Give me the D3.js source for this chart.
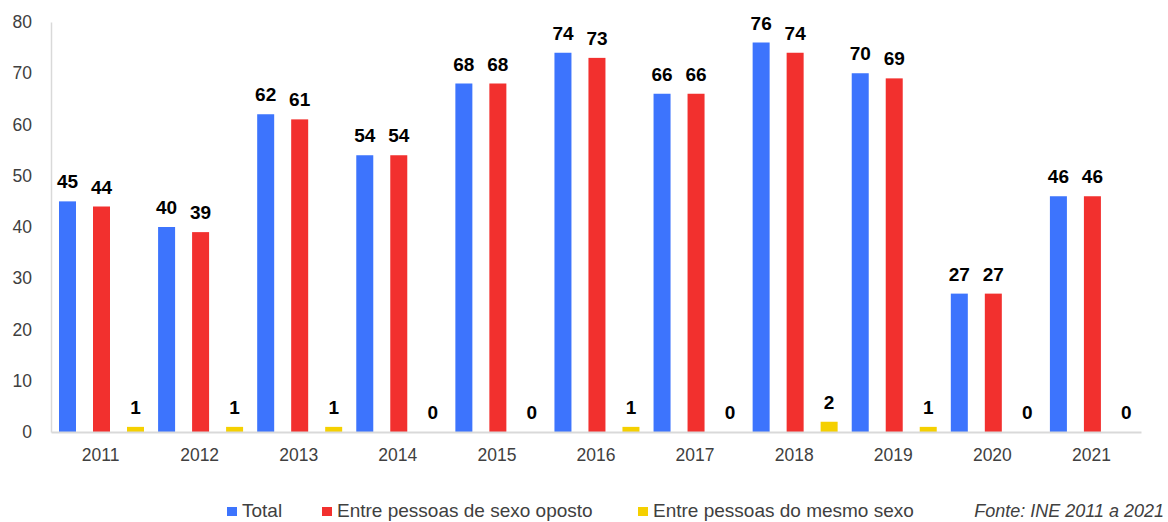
<!DOCTYPE html>
<html>
<head>
<meta charset="utf-8">
<script src="https://cdn.jsdelivr.net/npm/d3@7"></script>
<style>
  body { margin: 0; background: #fff; }
  svg { display: block; font-family: "Liberation Sans", Arial, sans-serif; }
</style>
</head>
<body>
<div id="chart"></div>
<script>
var years = ["2011", "2012", "2013", "2014", "2015", "2016", "2017", "2018", "2019", "2020", "2021"];
var total = [45, 40, 62, 54, 68, 74, 66, 76, 70, 27, 46];
var oposto = [44, 39, 61, 54, 68, 73, 66, 74, 69, 27, 46];
var mesmo = [1, 1, 1, 0, 0, 1, 0, 2, 1, 0, 0];
var seriesNames = ["Total", "Entre pessoas de sexo oposto", "Entre pessoas do mesmo sexo"];
var colors = ["#3d74fd", "#f2302e", "#f5d000"];
var yTicks = [0, 10, 20, 30, 40, 50, 60, 70, 80];

var width = 1168,
  height = 522;

var svg = d3.select("#chart")
  .append("svg")
  .attr("width", width)
  .attr("height", height);

var x = d3.scaleBand().domain(years).range([51, 1141]).padding(0);
var x1 = d3.scaleBand().domain(d3.range(3)).range([8, 93]).paddingInner(0.5).paddingOuter(0);
var y = d3.scaleLinear().domain([0, 80]).range([432, 22]);

// y axis
var yAxis = svg.append("g")
  .attr("transform", "translate(51,0)")
  .call(d3.axisLeft(y).tickValues(yTicks).tickSize(0).tickPadding(19));
yAxis.select(".domain").attr("stroke", "#d9d9d9").attr("stroke-width", 1.5);
yAxis.selectAll("text")
  .attr("font-size", 17.5)
  .attr("fill", "#404040")
  .attr("font-family", "Liberation Sans, Arial, sans-serif");

var data = years.map(function (yr, i) {
  return { year: yr, values: [total[i], oposto[i], mesmo[i]] };
});

var groups = svg.selectAll("g.year")
  .data(data)
  .enter()
  .append("g")
  .attr("class", "year")
  .attr("transform", function (d) { return "translate(" + x(d.year) + ",0)"; });

groups.selectAll("rect")
  .data(function (d) { return d.values; })
  .enter()
  .append("rect")
  .attr("x", function (d, j) { return x1(j); })
  .attr("width", x1.bandwidth())
  .attr("y", function (d) { return y(d); })
  .attr("height", function (d) { return y(0) - y(d); })
  .attr("fill", function (d, j) { return colors[j]; });

groups.selectAll("text")
  .data(function (d) { return d.values; })
  .enter()
  .append("text")
  .attr("x", function (d, j) { return x1(j) + x1.bandwidth() / 2; })
  .attr("y", function (d) { return y(d) - 13; })
  .attr("text-anchor", "middle")
  .attr("font-size", 19)
  .attr("font-weight", "bold")
  .attr("fill", "#000")
  .text(function (d) { return d; });

// x axis
var xAxis = svg.append("g")
  .attr("transform", "translate(0,432)")
  .call(d3.axisBottom(x).tickSize(0).tickPadding(17));
xAxis.select(".domain").attr("stroke", "#d9d9d9").attr("stroke-width", 2);
xAxis.selectAll("text")
  .attr("font-size", 17.5)
  .attr("fill", "#404040")
  .attr("font-family", "Liberation Sans, Arial, sans-serif");

// legend
var legendX = [227, 322, 638];
var legend = svg.append("g");
seriesNames.forEach(function (name, j) {
  legend.append("rect")
    .attr("x", legendX[j])
    .attr("y", 507)
    .attr("width", 10)
    .attr("height", 9)
    .attr("fill", colors[j]);
  legend.append("text")
    .attr("x", legendX[j] + 15)
    .attr("y", 517)
    .attr("font-size", 19)
    .attr("fill", "#404040")
    .text(name);
});

svg.append("text")
  .attr("x", 1164)
  .attr("y", 517)
  .attr("text-anchor", "end")
  .attr("font-size", 18)
  .attr("font-style", "italic")
  .attr("fill", "#404040")
  .text("Fonte: INE 2011 a 2021");
</script>
</body>
</html>
